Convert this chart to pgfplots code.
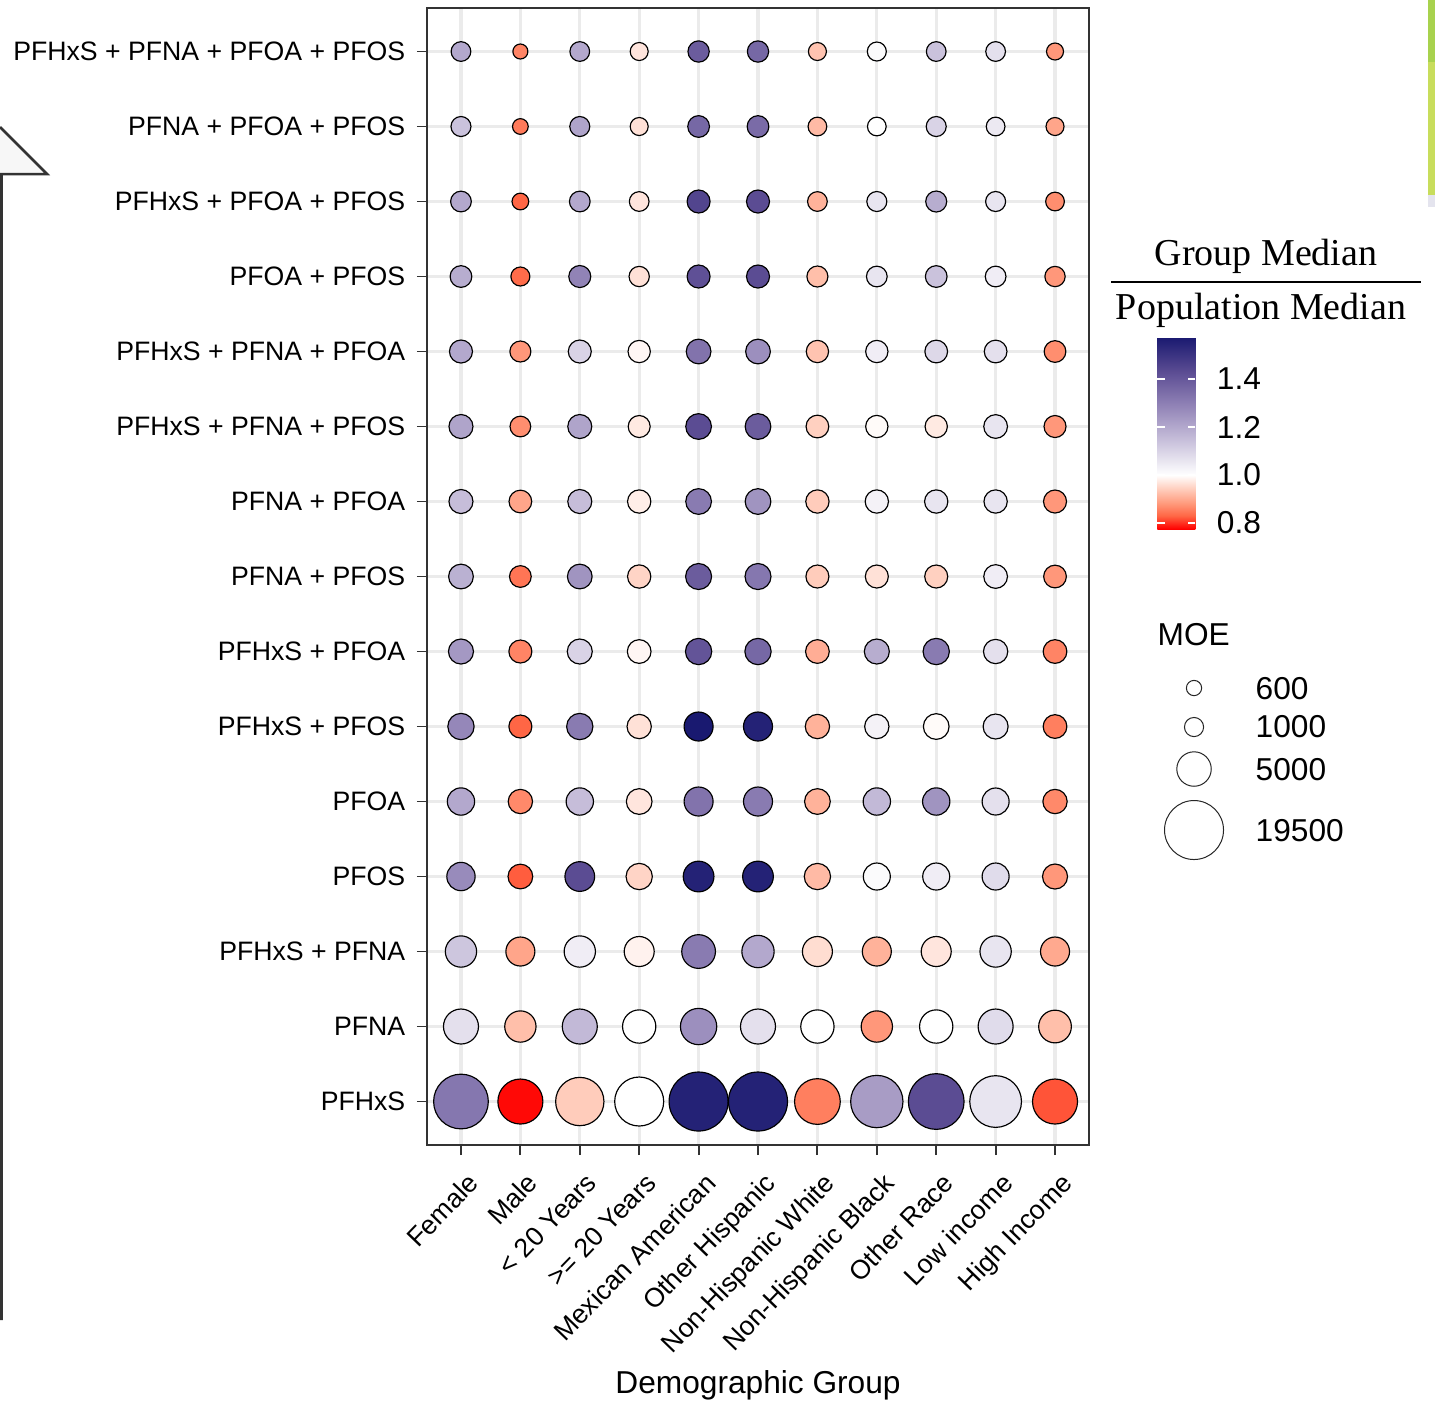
\documentclass[border=0pt]{standalone}
\usepackage{pgfplots}
\pgfplotsset{compat=1.18}
\usepackage{fontspec}
\setmainfont{Liberation Sans}
\newfontfamily\legserif{Liberation Serif}
\definecolor{grid92}{HTML}{EBEBEB}
\definecolor{grey20}{HTML}{333333}
\definecolor{greenA}{HTML}{A8D24E}
\definecolor{greenB}{HTML}{C8DD5C}
\definecolor{lavC}{HTML}{E4E4EE}
\pgfplotsset{
  colormap={pfas}{
    rgb255(0pt)=(255,0,0)
    rgb255(56pt)=(255,104,70)
    rgb255(112pt)=(255,158,129)
    rgb255(169pt)=(255,207,191)
    rgb255(225pt)=(255,255,255)
    rgb255(369pt)=(200,192,219)
    rgb255(512pt)=(146,132,183)
    rgb255(656pt)=(91,76,147)
    rgb255(800pt)=(25,25,112)
  }
}
\pgfplotstableread{
x y ratio moe
0 14 1.20 1076
1 14 0.86 582
2 14 1.20 1076
3 14 0.97 855
4 14 1.39 1327
5 14 1.36 1327
6 14 0.93 855
7 14 1.01 979
8 14 1.14 1076
9 14 1.07 1076
10 14 0.88 748
0 13 1.14 1120
1 13 0.85 633
2 13 1.21 1120
3 13 0.965 855
4 13 1.36 1397
5 13 1.35 1397
6 13 0.92 940
7 13 1.00 940
8 13 1.10 1120
9 13 1.05 940
10 13 0.895 855
0 12 1.20 1228
1 12 0.83 719
2 12 1.20 1228
3 12 0.97 1076
4 12 1.45 1641
5 12 1.43 1641
6 12 0.91 1076
7 12 1.06 1120
8 12 1.19 1277
9 12 1.06 1120
10 12 0.87 940
0 11 1.19 1397
1 11 0.835 979
2 11 1.29 1450
3 11 0.965 1165
4 11 1.42 1641
5 11 1.43 1641
6 11 0.925 1277
7 11 1.06 1228
8 11 1.14 1397
9 11 1.04 1228
10 11 0.88 1165
0 10 1.20 1641
1 10 0.88 1277
2 10 1.10 1641
3 10 0.99 1506
4 10 1.33 2002
5 10 1.26 2002
6 10 0.93 1506
7 10 1.04 1506
8 10 1.09 1582
9 10 1.07 1582
10 10 0.87 1397
0 9 1.21 1847
1 9 0.87 1228
2 9 1.21 1847
3 9 0.975 1450
4 9 1.43 2237
5 9 1.39 2237
6 9 0.945 1582
7 9 0.995 1506
8 9 0.975 1506
9 9 1.06 1784
10 9 0.88 1450
0 8 1.15 1847
1 8 0.895 1582
2 8 1.15 1847
3 8 0.98 1701
4 8 1.31 2237
5 8 1.25 2237
6 8 0.94 1701
7 8 1.03 1701
8 8 1.06 1701
9 8 1.06 1701
10 8 0.88 1641
0 7 1.18 2002
1 7 0.845 1397
2 7 1.25 2002
3 7 0.95 1701
4 7 1.39 2310
5 7 1.32 2310
6 7 0.94 1641
7 7 0.965 1641
8 7 0.945 1641
9 7 1.04 1784
10 7 0.88 1582
0 6 1.24 2071
1 6 0.86 1641
2 6 1.10 2071
3 6 0.99 1784
4 6 1.41 2385
5 6 1.36 2385
6 6 0.905 1784
7 6 1.19 2071
8 6 1.31 2385
9 6 1.07 1913
10 6 0.86 1784
0 5 1.28 2385
1 5 0.83 1641
2 5 1.31 2385
3 5 0.965 1913
4 5 1.575 3129
5 5 1.55 3129
6 5 0.91 1913
7 5 1.03 1913
8 5 0.995 2237
9 5 1.06 2071
10 5 0.855 1784
0 4 1.20 2647
1 4 0.865 1913
2 4 1.15 2647
3 4 0.97 2237
4 4 1.33 3129
5 4 1.31 3129
6 4 0.91 2237
7 4 1.16 2647
8 4 1.25 2647
9 4 1.07 2567
10 4 0.865 1913
0 3 1.27 2925
1 3 0.825 2002
2 3 1.43 3341
3 3 0.95 2385
4 3 1.55 3659
5 3 1.55 3659
6 3 0.92 2385
7 3 1.01 2567
8 3 1.04 2567
9 3 1.08 2567
10 3 0.88 2071
0 2 1.13 3857
1 2 0.895 3129
2 2 1.04 3857
3 2 0.985 3435
4 2 1.31 4711
5 2 1.20 4201
6 2 0.96 3435
7 2 0.91 3129
8 2 0.97 3435
9 2 1.06 3857
10 2 0.90 3129
0 1 1.07 5213
1 1 0.925 3857
2 1 1.16 5213
3 1 1.00 4562
4 1 1.26 5742
5 1 1.07 5213
6 1 1.00 4562
7 1 0.88 3857
8 1 1.00 4562
9 1 1.08 5213
10 1 0.925 4344
0 0 1.32 16240
1 0 0.78 10008
2 0 0.94 11954
3 0 1.00 12389
4 0 1.55 19500
5 0 1.55 19500
6 0 0.855 10406
7 0 1.23 14553
8 0 1.43 16970
9 0 1.06 14146
10 0 0.82 10008
}\bubbles
\pgfplotstableread{
x y moe
1194 688 600
1194 727 1000
1194 769 5000
1194 830 19500
}\moelegend
\begin{document}
\begin{tikzpicture}
\useasboundingbox (0pt,0pt) rectangle (430.5pt,-420.9pt);
% decorations from the screenshot
\begin{scope}[x=0.3pt,y=-0.3pt]
  \fill[black!3] (0,127) -- (47,174) -- (0,174) -- cycle;
  \draw[line width=0.75pt, black!80, line join=miter] (0,127) -- (47,174) -- (1.5,174) -- (1.5,1320);
  \fill[greenA] (1428,0) rectangle (1436,62);
  \fill[greenB] (1428,62) rectangle (1436,195);
  \fill[lavC] (1428,195) rectangle (1436,207);
\end{scope}
\begin{axis}[
  at={(128.1pt,-343.5pt)}, anchor=south west,
  scale only axis, width=198.6pt, height=341.1pt,
  xmin=-0.572, xmax=10.572, ymin=-0.58, ymax=14.58,
  xtick={0,...,10}, ytick={0,...,14},
  xticklabels={Female,Male,{< 20 Years},{>= 20 Years},Mexican American,Other Hispanic,Non-Hispanic White,Non-Hispanic Black,Other Race,Low income,High Income},
  yticklabels={PFHxS,PFNA,PFHxS + PFNA,PFOS,PFOA,PFHxS + PFOS,PFHxS + PFOA,PFNA + PFOS,PFNA + PFOA,PFHxS + PFNA + PFOS,PFHxS + PFNA + PFOA,PFOA + PFOS,PFHxS + PFOA + PFOS,PFNA + PFOA + PFOS,PFHxS + PFNA + PFOA + PFOS},
  tick pos=left, tick align=outside, major tick length=3pt,
  tick style={grey20, line width=0.55pt},
  xticklabel style={rotate=46, anchor=north east, font=\fontsize{8}{9.6}\selectfont, xshift=1pt, yshift=-1pt},
  yticklabel style={font=\fontsize{8}{9.6}\selectfont},
  grid=major, major grid style={grid92, line width=1pt},
  axis line style={grey20, line width=0.55pt},
  colormap name=pfas, point meta min=0.775, point meta max=1.575,
  colorbar,
  colorbar style={
    at={(parent axis.north east)}, anchor=north west,
    xshift=12pt, yshift=-98.7pt,
    scale only axis, width=11.4pt, height=57.6pt,
    ytick={0.8,1.0,1.2,1.4}, yticklabels={0.8,1.0,1.2,1.4},
    ytick pos=both, yticklabel pos=right,
    tick align=inside, major tick length=2.2pt,
    tick style={white, line width=0.5pt},
    axis line style={draw=none},
    yticklabel style={font=\fontsize{9.5}{11}\selectfont, anchor=west, xshift=2.9pt},
  },
]
\addplot[scatter, only marks, mark=*, point meta=explicit,
  scatter/use mapped color={draw=black, fill=mapped color},
  visualization depends on={0.15*(12+48*sqrt((\thisrow{moe}-450)/19050))-0.15 \as \rad},
  scatter/@pre marker code/.append style={/tikz/mark size=\rad},
  mark options={line width=0.35pt}]
  table[x=x, y=y, meta=ratio] {\bubbles};
\end{axis}
% MOE legend circles
\begin{axis}[
  at={(0pt,0pt)}, anchor=north west,
  scale only axis, width=430.5pt, height=420.9pt,
  xmin=0, xmax=1435, ymin=0, ymax=1403, y dir=reverse,
  hide axis, clip=false]
\addplot[scatter, only marks, mark=*,
  scatter/use mapped color={draw=black!85, fill=white},
  visualization depends on={0.15*(12+48*sqrt((\thisrow{moe}-450)/19050))-0.15 \as \rad},
  scatter/@pre marker code/.append style={/tikz/mark size=\rad},
  mark options={line width=0.3pt}]
  table[x=x, y=y] {\moelegend};
\end{axis}
\begin{scope}[x=0.3pt,y=-0.3pt]
  \node[anchor=base, inner sep=0pt, font=\fontsize{9.5}{11}\selectfont] at (758,1393) {Demographic Group};
  \node[anchor=base, inner sep=0pt, font=\legserif\fontsize{11.4}{13}\selectfont] at (1266,265) {Group Median};
  \draw[line width=0.6pt] (1111,281.5) -- (1421,281.5);
  \node[anchor=base, inner sep=0pt, font=\legserif\fontsize{11.4}{13}\selectfont] at (1261,319.3) {Population Median};
  \node[anchor=base west, inner sep=0pt, font=\fontsize{9.5}{11}\selectfont] at (1157,645) {MOE};
  \node[anchor=west, inner sep=0pt, font=\fontsize{9.5}{11}\selectfont] at (1255,689) {600};
  \node[anchor=west, inner sep=0pt, font=\fontsize{9.5}{11}\selectfont] at (1255,727) {1000};
  \node[anchor=west, inner sep=0pt, font=\fontsize{9.5}{11}\selectfont] at (1255,770) {5000};
  \node[anchor=west, inner sep=0pt, font=\fontsize{9.5}{11}\selectfont] at (1255,831) {19500};
\end{scope}
\end{tikzpicture}
\end{document}
